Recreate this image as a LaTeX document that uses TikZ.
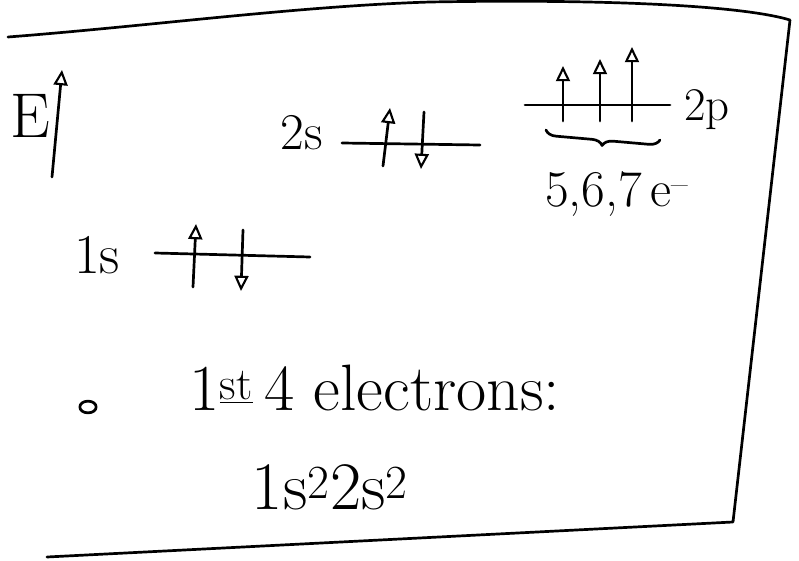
\documentclass[tikz,border=0pt]{standalone}
\usetikzlibrary{arrows.meta,decorations.pathreplacing}

\tikzset{
  pen/.style={line width=2.3pt, line cap=round, line join=round},
  spin/.style={pen, -{Triangle[open,length=13pt,width=12pt,line width=1.8pt]}},
  hand/.style={inner sep=0pt},
}

\begin{document}
\begin{tikzpicture}[x=0.03cm, y=-0.03cm]
			\useasboundingbox (0,0) rectangle (799,561);
			
			% sheet outline
			\draw[pen] (8,37) .. controls (150,26) and (300,6) .. (430,2)
			  .. controls (600,-1) and (740,5) .. (790,20) -- (733,522) -- (47,557);
			
			% energy axis
			\node[hand, font=\fontsize{54}{58}\selectfont] (lblE) at (30,116) {E};
			\coordinate (Ebot) at (52,177);
			\coordinate (Etop) at (62,70);
			\draw[spin] (Ebot) -- (Etop);
			
			% 1s level
			\coordinate (s1a) at (155,253);
			\coordinate (s1b) at (310,257);
			\node[hand, font=\fontsize{48}{52}\selectfont] (lbl1s) at (97,255) {1s};
			\draw[pen] (s1a) -- (s1b);
			\draw[spin] (193,287) -- (196,224);
			\draw[spin] (243,230) -- (241,291);
			
			% 2s level
			\coordinate (s2a) at (342,143);
			\coordinate (s2b) at (480,145);
			\node[hand, font=\fontsize{44}{48}\selectfont] (lbl2s) at (302,133) {2s};
			\draw[pen] (s2a) -- (s2b);
			\draw[spin] (383,166) -- (390,108);
			\draw[spin] (424,112) -- (421,169);
			
			% 2p level
			\coordinate (p2a) at (525,105);
			\coordinate (p2b) at (670,105);
			\node[hand, font=\fontsize{40}{44}\selectfont] (lbl2p) at (707,110) {2p};
			\draw[pen] (p2a) -- (p2b);
			\foreach \x/\t in {563/66, 600/59, 632/47}
			  \draw[spin] (\x,121) -- (\x,\t);
			
			% brace under the p electrons
			\coordinate (br1) at (546,130);
			\coordinate (br2) at (660,140);
			\draw[pen, decorate, decoration={brace, mirror, amplitude=9pt}] (br1) -- (br2);
			\node[hand, font=\fontsize{44}{48}\selectfont] (lblp) at (617,194) {5,6,7\,e\textsuperscript{--}};
			
			% first four electrons
			\draw[pen] (88,407) circle (7pt and 5pt);
			\node[hand, font=\fontsize{56}{60}\selectfont] (lblfirst) at (375,388) {1\textsuperscript{\underline{st}}\,4 electrons:};
			\node[hand, font=\fontsize{58}{62}\selectfont] (lblconf) at (330,487) {1s\textsuperscript{2}2s\textsuperscript{2}};
			
		\end{tikzpicture}
\end{document}
